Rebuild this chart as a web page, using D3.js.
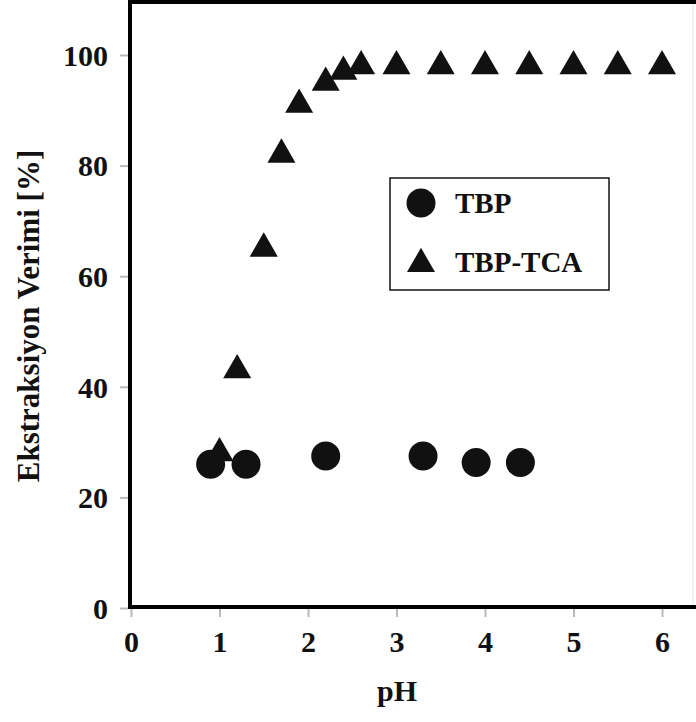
<!DOCTYPE html>
<html><head><meta charset="utf-8">
<script src="https://cdn.jsdelivr.net/npm/d3@7"></script>
<style>html,body{margin:0;padding:0;background:#fff;}svg{display:block;}</style>
</head><body>
<script>
const tbpX = [0.9, 1.3, 2.2, 3.3, 3.9, 4.4];
const tbpY = [26, 26, 27.5, 27.5, 26.3, 26.3];
const tcaX = [1.0, 1.2, 1.5, 1.7, 1.9, 2.2, 2.4, 2.6, 3.0, 3.5, 4.0, 4.5, 5.0, 5.5, 6.0];
const tcaY = [28, 43, 65, 82, 91, 95, 97, 98, 98, 98, 98, 98, 98, 98, 98];
const xTicks = [0, 1, 2, 3, 4, 5, 6];
const yTicks = [0, 20, 40, 60, 80, 100];
const seriesNames = ["TBP", "TBP-TCA"];
const xTitle = "pH";
const yTitle = "Ekstraksiyon Verimi [%]";

const W = 696, H = 722;
const svg = d3.select("body").append("svg").attr("width", W).attr("height", H);
const x = d3.scaleLinear().domain([0, 6]).range([131, 662]);
const y = d3.scaleLinear().domain([0, 100]).range([608, 55]);
const font = "'Liberation Serif','Times New Roman',serif";

// ticks (light gray)
const xAxis = d3.axisBottom(x).tickValues(xTicks).tickSize(8).tickFormat(d3.format("d"));
const gx = svg.append("g").attr("transform", "translate(0,609)").call(xAxis);
gx.select(".domain").remove();
gx.selectAll(".tick line").attr("stroke", "#bbb").attr("stroke-width", 2);
gx.selectAll(".tick text").attr("y", 22).attr("dy", "0.71em")
  .style("font-family", font).style("font-weight", "bold").style("font-size", "30px").attr("fill", "#111");

const yAxis = d3.axisLeft(y).tickValues(yTicks).tickSize(8).tickFormat(d3.format("d"));
const gy = svg.append("g").attr("transform", "translate(128,0)").call(yAxis);
gy.select(".domain").remove();
gy.selectAll(".tick line").attr("stroke", "#bbb").attr("stroke-width", 2);
gy.selectAll(".tick text").attr("x", -20).attr("dy", "0.34em")
  .style("font-family", font).style("font-weight", "bold").style("font-size", "30px").attr("fill", "#111");

// frame lines
svg.append("line").attr("x1", 130).attr("x2", 130).attr("y1", 0).attr("y2", 609)
  .attr("stroke", "#000").attr("stroke-width", 4);
svg.append("line").attr("x1", 128).attr("x2", W).attr("y1", 607).attr("y2", 607)
  .attr("stroke", "#000").attr("stroke-width", 4);
svg.append("line").attr("x1", 128).attr("x2", W).attr("y1", 2).attr("y2", 2)
  .attr("stroke", "#000").attr("stroke-width", 4);
svg.append("line").attr("x1", 693).attr("x2", 693).attr("y1", 4).attr("y2", 605)
  .attr("stroke", "#e4e4e4").attr("stroke-width", 1);

// axis titles
svg.append("text").attr("x", 397).attr("y", 701).attr("text-anchor", "middle")
  .style("font-family", font).style("font-weight", "bold").style("font-size", "30px")
  .attr("fill", "#111").text(xTitle);
svg.append("text").attr("transform", "translate(39,316) rotate(-90)").attr("text-anchor", "middle")
  .style("font-family", font).style("font-weight", "bold").style("font-size", "31px")
  .attr("fill", "#111").text(yTitle);

// data
const tri = d3.symbol().type(d3.symbolTriangle).size(340);
svg.append("g").selectAll("path").data(tcaX.map((v, i) => [v, tcaY[i]])).join("path")
  .attr("d", tri).attr("transform", d => `translate(${x(d[0])},${y(d[1])})`).attr("fill", "#111");
svg.append("g").selectAll("circle").data(tbpX.map((v, i) => [v, tbpY[i]])).join("circle")
  .attr("cx", d => x(d[0])).attr("cy", d => y(d[1])).attr("r", 14.5).attr("fill", "#111");

// legend
const lg = svg.append("g");
lg.append("rect").attr("x", 390).attr("y", 178).attr("width", 219).attr("height", 112)
  .attr("fill", "#fff").attr("stroke", "#111").attr("stroke-width", 1.5);
lg.append("circle").attr("cx", 421).attr("cy", 203).attr("r", 14.5).attr("fill", "#111");
lg.append("path").attr("d", tri).attr("transform", "translate(421,264)").attr("fill", "#111");
lg.selectAll("text.l").data(seriesNames).join("text").attr("class", "l")
  .attr("x", 455).attr("y", (d, i) => 213 + i * 59)
  .style("font-family", font).style("font-weight", "bold").style("font-size", "29px")
  .attr("fill", "#111").text(d => d);
</script>
</body></html>
